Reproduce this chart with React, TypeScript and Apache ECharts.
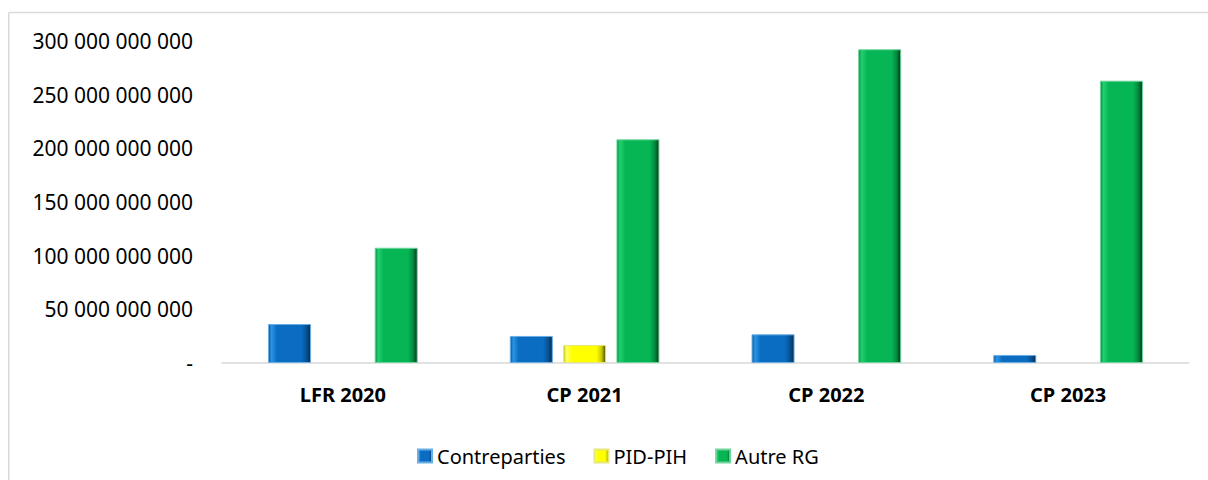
import React, { useEffect, useRef } from "react";
import * as echarts from "echarts";

const categories = ["LFR 2020", "CP 2021", "CP 2022", "CP 2023"];
const contreparties = [36_300_000_000, 25_200_000_000, 26_700_000_000, 7_500_000_000];
const pidPih = [null, 16_800_000_000, null, null];
const autreRG = [107_400_000_000, 208_400_000_000, 292_300_000_000, 263_000_000_000];
const seriesNames = ["Contreparties", "PID-PIH", "Autre RG"];
const yMax = 300_000_000_000;
const yInterval = 50_000_000_000;

const FONT = "'Noto Sans', 'Open Sans', sans-serif";

function bevel(light: string, base: string, dark: string, darkest: string) {
  return new echarts.graphic.LinearGradient(0, 0, 1, 0, [
    { offset: 0, color: dark },
    { offset: 0.07, color: light },
    { offset: 0.2, color: base },
    { offset: 0.78, color: base },
    { offset: 0.9, color: dark },
    { offset: 1, color: darkest },
  ]);
}

function fmt(v: number): string {
  if (v === 0) return "-";
  return String(Math.round(v)).replace(/\B(?=(\d{3})+(?!\d))/g, " ");
}

export default function App() {
  const ref = useRef<HTMLDivElement>(null);
  useEffect(() => {
    document.body.style.margin = "0";
    document.documentElement.style.overflow = "hidden";
    document.body.style.overflow = "hidden";
    if (!ref.current) return;
    const chart = echarts.init(ref.current, null, { renderer: "svg" });
    const styles = [
      { c: bevel("#2a95e6", "#0a6dc2", "#085293", "#062c4d"), b: "#6aaee6" },
      { c: bevel("#ffff66", "#ffff00", "#c9c900", "#4d4d00"), b: "#e6e67a" },
      { c: bevel("#22d070", "#06b554", "#048a40", "#02351a"), b: "#6fd49c" },
    ];
    const data = [contreparties, pidPih, autreRG];
    chart.setOption({
      animation: false,
      backgroundColor: "#ffffff",
      textStyle: { fontFamily: FONT },
      graphic: [
        {
          type: "line",
          shape: { x1: 8.75, y1: 12.5, x2: 1208, y2: 12.5 },
          style: { stroke: "#d9d9d9", lineWidth: 1.5 },
          silent: true,
          z: -10,
        },
        {
          type: "line",
          shape: { x1: 8.75, y1: 12.5, x2: 8.75, y2: 480 },
          style: { stroke: "#d9d9d9", lineWidth: 1.5 },
          silent: true,
          z: -10,
        },
      ],
      grid: { left: 222, right: 19, top: 41, bottom: 117, containLabel: false },
      legend: {
        left: 412,
        top: 441,
        itemWidth: 14,
        itemHeight: 13,
        itemGap: 28,
        icon: "rect",
        textStyle: { fontFamily: FONT, fontSize: 20, color: "#000000" },
        data: seriesNames,
      },
      xAxis: {
        type: "category",
        data: categories,
        axisLine: { lineStyle: { color: "#d9d9d9", width: 1.5 } },
        axisTick: { show: false },
        axisLabel: {
          margin: 21,
          fontFamily: FONT,
          fontSize: 20,
          fontWeight: "bold",
          color: "#000000",
        },
      },
      yAxis: {
        type: "value",
        min: 0,
        max: yMax,
        interval: yInterval,
        splitLine: { show: false },
        axisLine: { show: false },
        axisTick: { show: false },
        axisLabel: {
          margin: 29,
          fontFamily: FONT,
          fontSize: 21,
          color: "#000000",
          formatter: fmt,
        },
      },
      series: seriesNames.map((name, i) => ({
        name,
        type: "bar",
        data: data[i],
        barWidth: 43,
        barGap: "24%",
        itemStyle: {
          color: styles[i].c,
          borderColor: styles[i].b,
          borderWidth: 1,
        },
      })),
    });
    return () => chart.dispose();
  }, []);
  return <div ref={ref} style={{ width: 1208, height: 480 }} />;
}
